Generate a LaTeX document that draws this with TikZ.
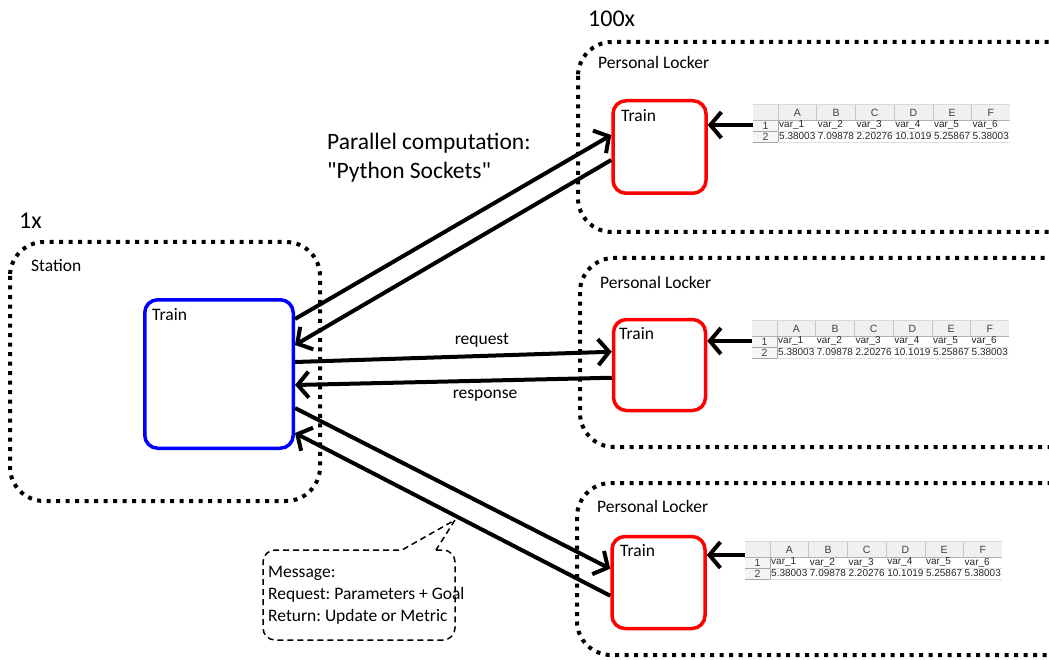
\documentclass[tikz,border=0pt]{standalone}
\usepackage{fontspec}
\setmainfont{Carlito}[Ligatures=TeXOff]
\newfontfamily\sheetfont{Liberation Sans}
\usetikzlibrary{arrows.meta,calc}
\frenchspacing

\tikzset{
  group/.style={draw=black, line width=4pt, dash pattern=on 4pt off 5.5pt, rounded corners=34pt},
  trainbox/.style={draw, line width=3.5pt, rounded corners=13pt, inner sep=0pt},
  arr/.style={line width=4pt, -{Straight Barb[length=11pt,width=26pt]}},
  lbl/.style={font=\fontsize{17.5}{20}\selectfont, inner sep=0pt, anchor=west},
  big/.style={font=\fontsize{24}{28}\selectfont, inner sep=0pt, anchor=west},
  msg/.style={line width=1.5pt, dash pattern=on 6pt off 4pt},
  hdr/.style={font=\sheetfont\fontsize{10.5}{12}\selectfont, inner sep=0pt, text=black!75},
  cell/.style={font=\sheetfont\fontsize{10}{11}\selectfont, inner sep=0pt, anchor=west, text=black!85},
}

% a small spreadsheet excerpt: top-left corner at (#1,#2)
\newcommand\sheettable[2]{%
  \begin{scope}[shift={(#1,#2)}]
    \fill[gray!12] (0,0) rectangle (257,16);
    \fill[gray!8] (0,16) rectangle (25,38);
    \foreach \k in {0,...,5}
      \draw[gray!45, line width=0.6pt] (25+38.7*\k,0) -- (25+38.7*\k,16);
    \draw[gray!30, line width=0.5pt] (0,0) -- (257,0);
    \draw[gray!60, line width=0.7pt] (0,16) -- (257,16);
    \draw[gray!70, line width=0.8pt] (25,16) -- (25,38);
    \draw[gray!25, line width=0.5pt] (25,27) -- (257,27);
    \draw[gray!70, line width=0.8pt] (0,27) -- (25,27);
    \draw[gray!70, line width=0.8pt] (0,38) -- (25,38);
    \draw[gray!25, line width=0.5pt] (25,38) -- (257,38);
    \foreach \c [count=\i from 0] in {A,B,C,D,E,F}
      \node[hdr] at (25+38.7*\i+19.35,8.5) {\c};
    \node[hdr] at (12.5,21.5) {1};
    \node[hdr] at (12.5,32.5) {2};
    \foreach \i in {1,...,6}
      \node[cell] at (25+38.7*\i-38.7+1,21.5) {var\_\i};
    \foreach \v [count=\i from 0] in {5.38003,7.09878,2.20276,10.1019,5.25867,5.38003}
      \node[cell] at (25+38.7*\i+1,32.5) {\v};
  \end{scope}}

\begin{document}
\begin{tikzpicture}[x=1pt,y=-1pt]
  \path[use as bounding box] (0,0) rectangle (1049,660);
  \clip (0,0) rectangle (1049,660);

  % station side
  \node[big] (one) at (19,221) {1x};
  \draw[group] (10,242) rectangle (320,501);
  \node[lbl] (stl) at (31,266) {Station};
  \node[trainbox, draw=blue, minimum width=148.5pt, minimum height=148.5pt] (st) at (219,374) {};
  \node[lbl] at (152,315) {Train};

  % personal lockers
  \node[big] (hundred) at (588,19) {100x};
  \draw[group] (578,42) rectangle (1085,232);
  \draw[group] (580,258) rectangle (1085,447);
  \draw[group] (577,483) rectangle (1085,655);
  \node[lbl] at (598,62) {Personal Locker};
  \node[lbl] at (600,282) {Personal Locker};
  \node[lbl] at (597,506) {Personal Locker};

  \node[trainbox, draw=red, minimum width=93pt, minimum height=92.5pt] (r1) at (659.5,147) {};
  \node[trainbox, draw=red, minimum width=92pt, minimum height=91pt] (r2) at (659.5,365) {};
  \node[trainbox, draw=red, minimum width=93pt, minimum height=92pt] (r3) at (658.5,582.5) {};
  \node[lbl] at (621,116) {Train};
  \node[lbl] at (619,334) {Train};
  \node[lbl] at (620,551) {Train};

  % data tables feeding each locker train
  \sheettable{753}{104}
  \sheettable{752}{320}
  \sheettable{745}{541}
  \coordinate (d1) at (753,125);
  \coordinate (d2) at (752,341);
  \coordinate (d3) at (745,555);
  \draw[arr] (d1) -- (d1 -| r1.east);
  \draw[arr] (d2) -- (d2 -| r2.east);
  \draw[arr] (d3) -- (d3 -| r3.east);

  % socket communication
  \node[big, font=\fontsize{23.5}{28}\selectfont] at (327,143) {Parallel computation:};
  \node[big, font=\fontsize{23.5}{28}\selectfont] at (327,172) {"Python Sockets"};

  \draw[arr] ([yshift=-21pt]st.north east) -- ([yshift=-36pt]r1.north west);
  \draw[arr] ([yshift=-61pt]r1.north west) -- ([yshift=-47pt]st.north east);
  \draw[arr] ([yshift=-64pt]st.north east) -- ([yshift=-34pt]r2.north west)
    node[pos=0.59, above=7pt, font=\fontsize{17.5}{20}\selectfont, inner sep=0pt] {request};
  \draw[arr] ([yshift=-60pt]r2.north west) -- ([yshift=-87pt]st.north east)
    node[pos=0.4, below=7pt, font=\fontsize{17.5}{20}\selectfont, inner sep=0pt] {response};
  \draw[arr] ([yshift=-110pt]st.north east) -- ([yshift=-34pt]r3.north west);
  \draw[arr] ([yshift=-61pt]r3.north west) -- ([yshift=-135pt]st.north east);

  % message callout
  \draw[msg] (436,550) [rounded corners=12pt] -- (455,550) -- (455,640) -- (263,640) -- (263,550) [sharp corners] -- (402,550) -- (455,520) -- cycle;
  \node[lbl] at (268,573) {Message:};
  \node[lbl] at (268,595) {Request: Parameters + Goal};
  \node[lbl] at (268,617) {Return: Update or Metric};
\end{tikzpicture}
\end{document}
